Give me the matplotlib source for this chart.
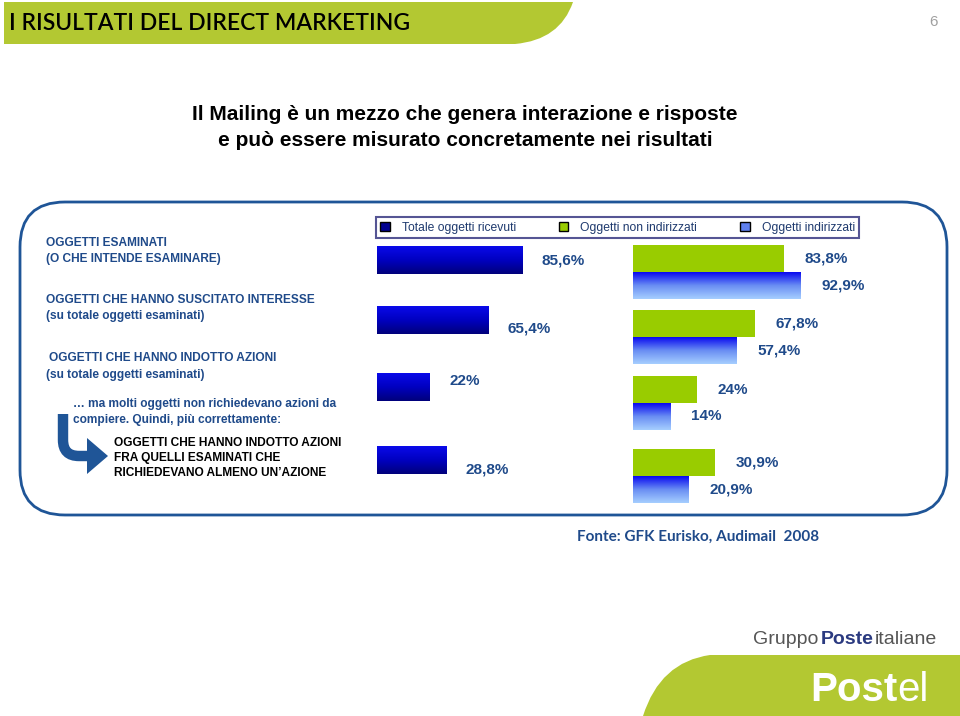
import numpy as np
import matplotlib.pyplot as plt
from matplotlib.colors import LinearSegmentedColormap
from matplotlib.patches import Patch, FancyBboxPatch, Polygon, PathPatch
from matplotlib.path import Path

plt.rcParams['font.family'] = ['Liberation Sans', 'DejaVu Sans']

# dati
serie = ['Totale oggetti ricevuti', 'Oggetti non indirizzati', 'Oggetti indirizzati']
totale = [85.6, 65.4, 22.0, 28.8]
non_indirizzati = [83.8, 67.8, 24.0, 30.9]
indirizzati = [92.9, 57.4, 14.0, 20.9]

W, H = 960, 716
fig = plt.figure(figsize=(W / 100, H / 100), dpi=100)
renderer = fig.canvas.get_renderer()

# sfondo in coordinate pixel
bg = fig.add_axes([0, 0, 1, 1])
bg.set_xlim(0, W)
bg.set_ylim(H, 0)
bg.axis('off')

BLU = '#1F5597'
TESTO = '#1F4A8A'
VERDE = '#99CC00'
VERDE_LOGO = '#B3C832'


def rect_px(x0, y0, w, h):
    return [x0 / W, 1 - (y0 + h) / H, w / W, h / H]


def etichetta(v):
    return ('%g' % v).replace('.', ',') + '%'


def testo_in_fila(x, y, pezzi, gap=0, **kw):
    # scrive pezzi di testo uno dopo l'altro
    for s, extra in pezzi:
        t = bg.text(x, y, s, va='center', ha='left', **kw, **extra)
        bb = t.get_window_extent(renderer)
        x += bb.width + gap


# barra del titolo
p = Path([(4, 2), (573, 2), (560, 40), (515, 44), (4, 44), (4, 2)],
         [Path.MOVETO, Path.LINETO, Path.CURVE3, Path.CURVE3, Path.LINETO, Path.CLOSEPOLY])
bg.add_patch(PathPatch(p, facecolor=VERDE_LOGO, edgecolor='none'))
bg.text(9, 23, 'I RISULTATI DEL DIRECT MARKETING', fontsize=16.5, va='center', ha='left',
        family=['Lato', 'DejaVu Sans'], fontweight='semibold', color='black')
bg.text(933, 22, '6', fontsize=11, color='#A0A0A0', va='center', ha='center')

bg.text(465, 115, 'Il Mailing è un mezzo che genera interazione e risposte', fontsize=15,
        fontweight='bold', ha='center', va='center')
bg.text(465, 141, 'e può essere misurato concretamente nei risultati', fontsize=15,
        fontweight='bold', ha='center', va='center')

# riquadro arrotondato
bg.add_patch(FancyBboxPatch((20, 202), 927, 313, boxstyle='round,pad=0,rounding_size=45',
                            facecolor='none', edgecolor=BLU, linewidth=2))

# testi a sinistra
kw = dict(fontsize=8.6, fontweight='bold', color=TESTO, va='center', ha='left')
bg.text(46, 243, 'OGGETTI ESAMINATI', **kw)
bg.text(46, 259, '(O CHE INTENDE ESAMINARE)', **kw)
bg.text(46, 300, 'OGGETTI CHE HANNO SUSCITATO INTERESSE', **kw)
bg.text(46, 316, '(su totale oggetti esaminati)', **kw)
bg.text(49, 358, 'OGGETTI CHE HANNO INDOTTO AZIONI', **kw)
bg.text(46, 375, '(su totale oggetti esaminati)', **kw)
bg.text(73, 404, '… ma molti oggetti non richiedevano azioni da', **kw)
bg.text(73, 420, 'compiere. Quindi, più correttamente:', **kw)
kw['color'] = 'black'
bg.text(114, 443, 'OGGETTI CHE HANNO INDOTTO AZIONI', **kw)
bg.text(114, 458, 'FRA QUELLI ESAMINATI CHE', **kw)
bg.text(114, 473, 'RICHIEDEVANO ALMENO UN\u2019AZIONE', **kw)

# freccia
fp = Path([(63, 414), (63, 440), (63, 456), (79, 456), (90, 456)],
          [Path.MOVETO, Path.LINETO, Path.CURVE3, Path.CURVE3, Path.LINETO])
bg.add_patch(PathPatch(fp, facecolor='none', edgecolor=BLU, linewidth=7.5, capstyle='butt'))
bg.add_patch(Polygon([(87, 438), (108, 456), (87, 474)], closed=True, facecolor=BLU, edgecolor='none'))

# fonte e logo
bg.text(577, 537, 'Fonte: GFK Eurisko, Audimail  2008', fontsize=11, fontweight='bold',
        color=TESTO, family=['Lato', 'DejaVu Sans'], va='center', ha='left')
testo_in_fila(753, 639, [('Gruppo', dict(color='#555555')),
                         ('Poste', dict(color='#2B3A80', fontweight='bold')),
                         ('italiane', dict(color='#555555'))], gap=2, fontsize=14)
lp = Path([(643, 716), (660, 662), (710, 655), (960, 655), (960, 716), (643, 716)],
          [Path.MOVETO, Path.CURVE3, Path.CURVE3, Path.LINETO, Path.LINETO, Path.CLOSEPOLY])
bg.add_patch(PathPatch(lp, facecolor=VERDE_LOGO, edgecolor='none'))
testo_in_fila(810, 690, [('Post', dict(fontweight='bold')), ('el', dict(fontweight='light'))],
              fontsize=29, color='white')

# colori delle barre
cmap_tot = LinearSegmentedColormap.from_list('tot', ['#00007A', '#0000C0', '#0A0AEA'])
cmap_ind = LinearSegmentedColormap.from_list('ind', ['#A6CFFF', '#6A8EF3', '#0808F0'])
grad = np.linspace(0, 1, 256).reshape(-1, 1)


def barra(ax, y, v, h, cmap=None, color=None):
    if cmap is None:
        ax.barh(y, v, height=h, color=color, edgecolor='none')
        return
    b = ax.barh(y, v, height=h, color='none', edgecolor='none')[0]
    im = ax.imshow(grad, extent=[0, v, y - h / 2, y + h / 2], origin='lower',
                   cmap=cmap, aspect='auto', interpolation='bilinear')
    im.set_clip_path(b)


lab = dict(fontsize=11, fontweight='bold', color=TESTO, va='center', ha='left',
           textcoords='offset points', annotation_clip=False)

# pannello sinistro: totale
centri_sx = [260, 320, 387, 460]
scala_sx = [1.7, 1.7, 2.4, 2.4]
dy_sx = [0, -6, 4, -7]
for i, v in enumerate(totale):
    ax = fig.add_axes(rect_px(377, centri_sx[i] - 14, 100 * scala_sx[i], 28))
    barra(ax, 0, v, 1, cmap=cmap_tot)
    ax.annotate(etichetta(v), xy=(v, 0), xytext=(14, dy_sx[i]), **lab)
    ax.set_xlim(0, 100)
    ax.set_ylim(-0.5, 0.5)
    ax.axis('off')

# pannello destro: non indirizzati / indirizzati
centri_dx = [272, 337, 403, 476]
scala_dx = [1.8, 1.8, 2.65, 2.65]
for i in range(4):
    ax = fig.add_axes(rect_px(633, centri_dx[i] - 27, 100 * scala_dx[i], 54))
    barra(ax, 0.5, non_indirizzati[i], 1, color=VERDE)
    barra(ax, -0.5, indirizzati[i], 1, cmap=cmap_ind)
    ax.annotate(etichetta(non_indirizzati[i]), xy=(non_indirizzati[i], 0.5), xytext=(15, 0), **lab)
    ax.annotate(etichetta(indirizzati[i]), xy=(indirizzati[i], -0.5), xytext=(15, 0), **lab)
    ax.set_xlim(0, 100)
    ax.set_ylim(-1, 1)
    ax.axis('off')

# legenda
handles = [Patch(facecolor='#000090', edgecolor='black'),
           Patch(facecolor=VERDE, edgecolor='black'),
           Patch(facecolor='#5F80EE', edgecolor='black')]
leg = fig.legend(handles, serie, loc='center', ncol=3, mode='expand',
                 bbox_to_anchor=(376 / W, 1 - 240 / H, 483 / W, 25 / H),
                 fontsize=8.7, frameon=True, fancybox=False, edgecolor='#2B2B7A',
                 borderpad=0.35, handlelength=0.8, handleheight=0.8, handletextpad=1.0,
                 labelcolor='#1F3A6E', borderaxespad=0)
leg.get_frame().set_linewidth(1.5)

fig.savefig('out.png', dpi=100)
